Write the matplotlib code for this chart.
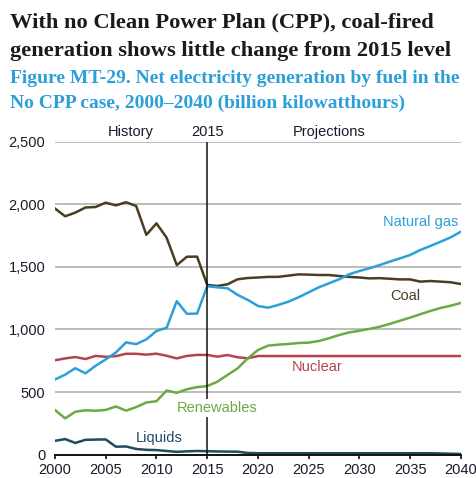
import matplotlib
matplotlib.use("Agg")
import matplotlib.pyplot as plt
import numpy as np

years = list(range(2000, 2041))

coal = [1966, 1904, 1933, 1974, 1978, 2013, 1991, 2016, 1986, 1756, 1847, 1733, 1514, 1581, 1582, 1356,
        1347, 1361, 1401, 1411, 1415, 1420, 1420, 1430, 1440, 1438, 1435, 1435, 1427, 1420, 1415,
        1408, 1410, 1405, 1400, 1400, 1382, 1387, 1382, 1377, 1363]
natural_gas = [601, 639, 691, 650, 710, 761, 816, 897, 883, 921, 988, 1014, 1226, 1125, 1127, 1345,
               1337, 1329, 1276, 1236, 1188, 1174, 1196, 1222, 1257, 1297, 1337, 1369, 1401, 1441, 1467,
               1489, 1515, 1542, 1568, 1595, 1635, 1667, 1701, 1736, 1781]
nuclear = [754, 769, 780, 764, 789, 782, 787, 806, 806, 799, 807, 790, 769, 789, 797, 797,
           783, 796, 778, 770, 788, 788, 788, 788, 788, 788, 788, 788, 788, 788, 788,
           788, 788, 788, 788, 788, 788, 788, 788, 788, 788]
renewables = [357, 290, 343, 355, 351, 358, 385, 352, 380, 417, 427, 513, 494, 523, 540, 548,
              583, 637, 690, 770, 836, 871, 879, 884, 892, 895, 908, 930, 956, 977, 990,
              1005, 1022, 1045, 1070, 1095, 1122, 1148, 1172, 1190, 1212]
liquids = [111, 125, 94, 119, 121, 122, 64, 66, 46, 39, 37, 30, 23, 27, 30, 28,
           26, 25, 24, 14, 12, 12, 12, 12, 12, 12, 12, 12, 12, 12, 12,
           12, 12, 12, 12, 12, 12, 12, 10, 8, 6]

y_ticks = [0, 500, 1000, 1500, 2000, 2500]
y_ticklabels = ["0", "500", "1,000", "1,500", "2,000", "2,500"]
x_ticks = list(range(2000, 2041, 5))

c_coal = "#4a3d22"
c_gas = "#2b9fd9"
c_nuc = "#b5434f"
c_ren = "#6aaa45"
c_liq = "#1e4b60"
c_blue_title = "#2b9fd9"

fig = plt.figure(figsize=(4.77, 4.78), dpi=100)
ax = fig.add_axes([0.1153, 0.0487, 0.851, 0.655])

sans = ["Liberation Sans", "DejaVu Sans"]
serif = ["Liberation Serif", "DejaVu Serif"]

for yv in y_ticks[1:]:
    ax.axhline(yv, color="#bdbdbd", lw=1.4, zorder=1)

ax.plot(years, liquids, color=c_liq, lw=1.8, zorder=3)
ax.plot(years, nuclear, color=c_nuc, lw=1.8, zorder=3)
ax.plot(years, renewables, color=c_ren, lw=1.8, zorder=3)
ax.plot(years, coal, color=c_coal, lw=1.8, zorder=4)
ax.plot(years, natural_gas, color=c_gas, lw=1.8, zorder=4)

ax.axvline(2015, ymin=0, ymax=1, color="#111111", lw=1.1, zorder=5)

ax.set_xlim(2000, 2040)
ax.set_ylim(0, 2500)
ax.set_xticks(x_ticks)
ax.set_yticks(y_ticks)
ax.set_yticklabels(y_ticklabels)
for s in ["top", "right", "left"]:
    ax.spines[s].set_visible(False)
ax.spines["bottom"].set_color("#111111")
ax.spines["bottom"].set_linewidth(1.4)
ax.spines["bottom"].set_zorder(6)
ax.tick_params(axis="x", direction="out", length=3, width=1.2, color="#111111", pad=3,
               labelsize=10.5, labelcolor="#1a1a2a")
ax.tick_params(axis="y", length=0, pad=7, labelsize=10.5, labelcolor="#1a1a2a")
for lbl in ax.get_xticklabels() + ax.get_yticklabels():
    lbl.set_family(sans)

tk = dict(fontsize=10.5, family=sans, zorder=7)
ax.text(2039.7, 1860, "Natural gas", color=c_gas, ha="right", va="center", **tk)
ax.text(2034.5, 1270, "Coal", color=c_coal, ha="center", va="center", **tk)
ax.text(2025.8, 700, "Nuclear", color=c_nuc, ha="center", va="center", **tk)
ax.text(2016.0, 372, "Renewables", color=c_ren, ha="center", va="center",
        bbox=dict(facecolor="white", edgecolor="none", pad=1.5), **tk)
ax.text(2010.3, 130, "Liquids", color=c_liq, ha="center", va="center", **tk)

ax.text(2007.5, 2575, "History", color="#1a1a2a", ha="center", va="center", fontsize=10.5, family=sans)
ax.text(2015, 2575, "2015", color="#1a1a2a", ha="center", va="center", fontsize=10.5, family=sans)
ax.text(2027, 2575, "Projections", color="#1a1a2a", ha="center", va="center", fontsize=10.5, family=sans)

fig.text(0.02, 0.952, "With no Clean Power Plan (CPP), coal-fired", fontsize=16.2, fontweight="bold",
         family=serif, color="#1a1a1a", ha="left", va="center")
fig.text(0.02, 0.893, "generation shows little change from 2015 level", fontsize=16.2, fontweight="bold",
         family=serif, color="#1a1a1a", ha="left", va="center")
fig.text(0.02, 0.835, "Figure MT-29. Net electricity generation by fuel in the", fontsize=14,
         fontweight="bold", family=serif, color=c_blue_title, ha="left", va="center")
fig.text(0.02, 0.783, "No CPP case, 2000\u20132040 (billion kilowatthours)", fontsize=14,
         fontweight="bold", family=serif, color=c_blue_title, ha="left", va="center")

fig.savefig("out.png", dpi=100)
